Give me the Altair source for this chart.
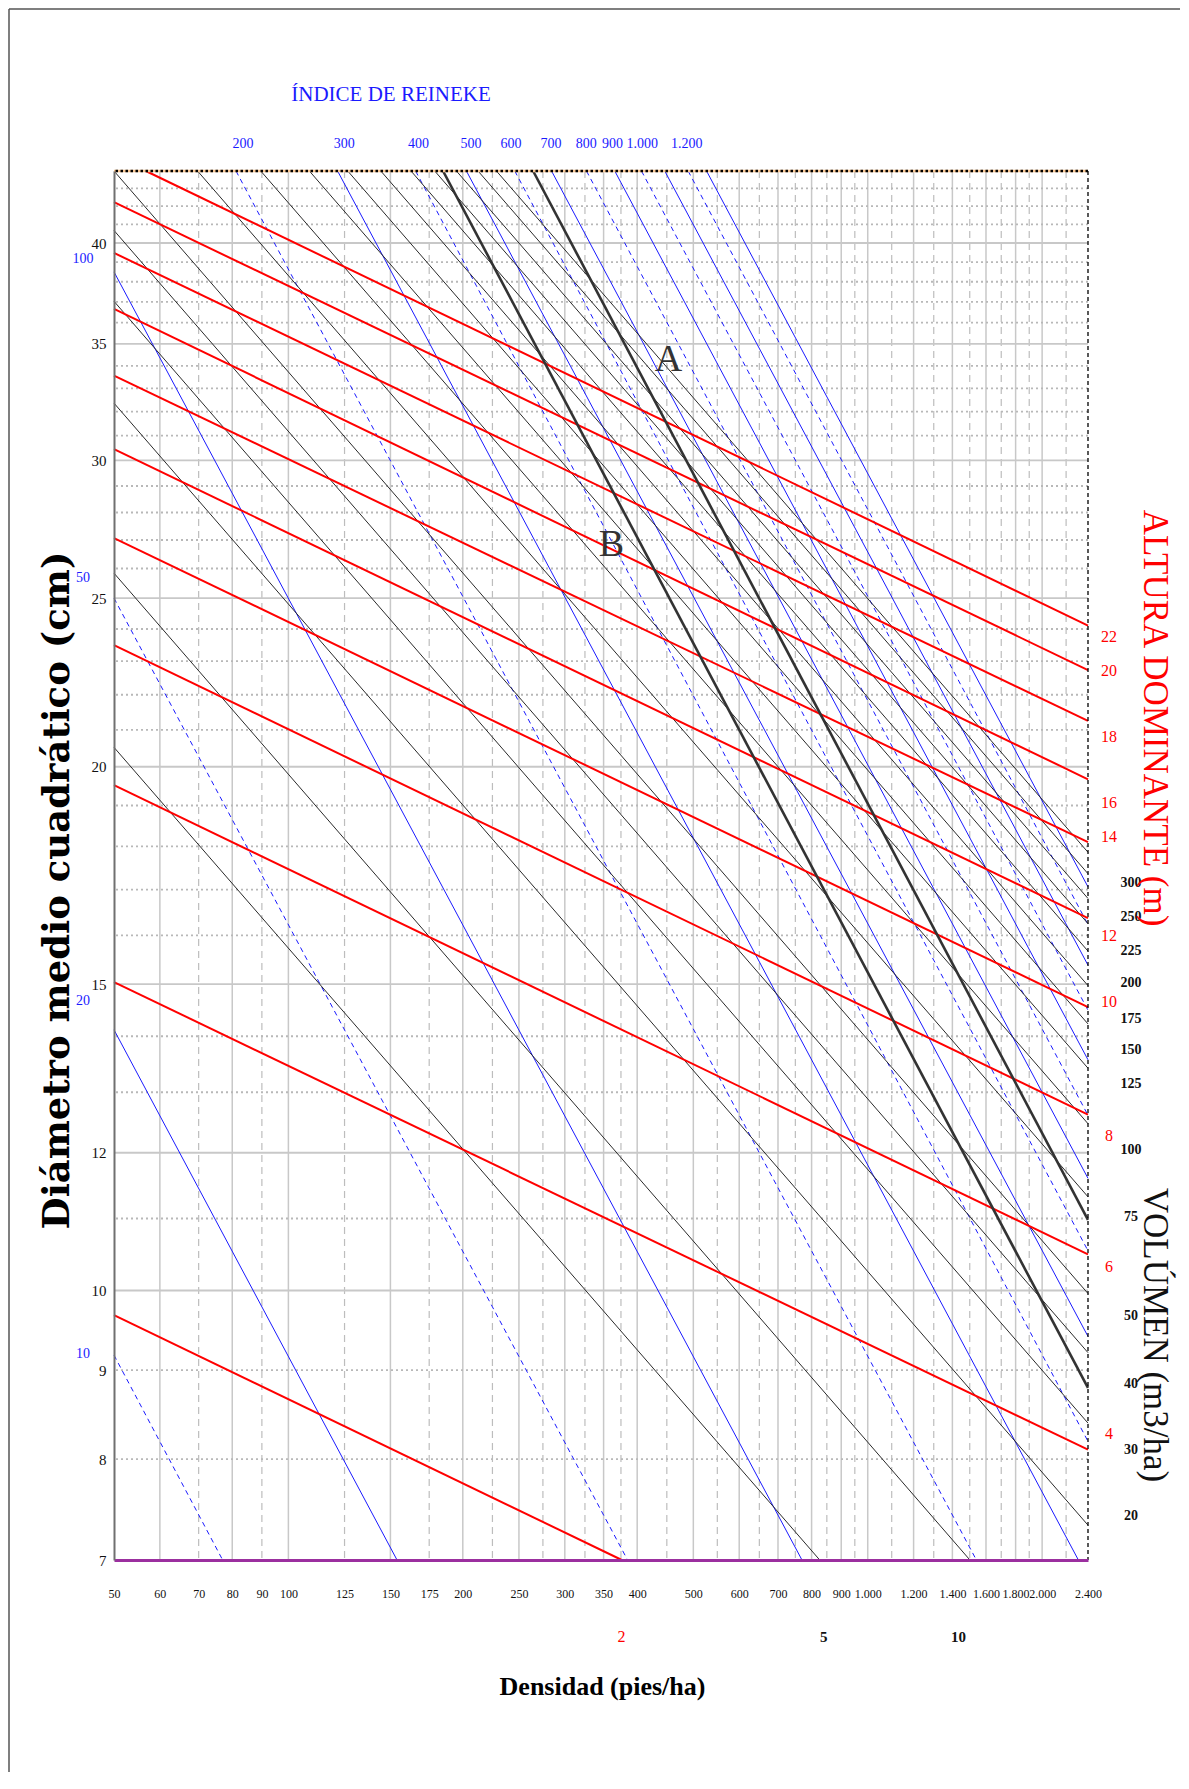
import altair as alt
import pandas as pd

SERIF = "Liberation Serif, Times New Roman, serif"

# ---------------- axis ticks ----------------
x_ticks = [50, 60, 70, 80, 90, 100, 125, 150, 175, 200, 250, 300, 350, 400, 500, 600,
           700, 800, 900, 1000, 1200, 1400, 1600, 1800, 2000, 2400]
y_ticks = [7, 8, 9, 10, 12, 15, 20, 25, 30, 35, 40]

# ---------------- grid lines ----------------
vgrid_solid = [60, 80, 100, 150, 200, 250, 300, 350, 400, 500, 600, 700, 800, 900, 1000,
               1200, 1400, 1600, 1800, 2000]
vgrid_dashed = [70, 90, 125, 175, 225, 275, 325, 375, 450, 550, 650, 750, 850, 950, 1100,
                1300, 1500, 1700, 1900, 2200]
hgrid_solid = [10, 12, 15, 20, 25, 30, 35, 40]
hgrid_dotted = [8, 9, 11, 13, 14, 16, 17, 18, 19, 21, 22, 23, 24, 26, 27, 28, 29, 31, 32, 33,
                34, 36, 37, 38, 39, 41, 42, 43]

# ---------------- dominant height lines (red) ----------------
height_ids = [22, 20, 18, 16, 14, 12, 10, 8, 6, 4, 2]
height_n0 = [56.75, 50, 50, 50, 50, 50, 50, 50, 50, 50, 50]
height_d0 = [44.0, 42.22, 39.48, 36.66, 33.56, 30.45, 27.07, 23.49, 19.52, 15.04, 9.68]
height_n1 = [2400, 2400, 2400, 2400, 2400, 2400, 2400, 2400, 2400, 2400, 376.3]
height_d1 = [24.11, 22.73, 21.25, 19.67, 18.10, 16.37, 14.55, 12.62, 10.49, 8.10, 7.0]

# ---------------- volume lines (black) ----------------
vol_ids = [5, 10, 20, 30, 40, 50, 75, 100, 125, 150, 175, 200, 225, 250, 275, 300]
vol_n0 = [50, 50, 50, 50, 50, 50, 69.7, 89.6, 108.7, 126.6, 144.4, 162.8, 178.9, 195.0, 212.5, 228.6]
vol_d0 = [20.52, 25.84, 32.36, 37.03, 40.67, 44, 44, 44, 44, 44, 44, 44, 44, 44, 44, 44]
vol_n1 = [826.3, 1501, 2400, 2400, 2400, 2400, 2400, 2400, 2400, 2400, 2400, 2400, 2400, 2400, 2400, 2400]
vol_d1 = [7.0, 7.0, 7.33, 8.39, 9.21, 9.96, 11.32, 12.47, 13.42, 14.23, 14.97, 15.67, 16.25, 16.80, 17.36, 17.86]

# ---------------- Reineke index lines (blue) ----------------
sdi_ids = [10, 20, 50, 100, 200, 300, 400, 500, 600, 700, 800, 900, 1000, 1100, 1200, 1300]
sdi_dashed = [True, False, True, False, True, False, True, False, True, False, True, False,
              True, False, True, False]
sdi_n0 = [50, 50, 50, 50, 81.2, 121.6, 165.8, 202.9, 245.9, 284.6, 327.0, 365.9, 406.9, 446.3, 489.8, 527.0]
sdi_d0 = [9.18, 14.12, 25.0, 38.5, 44, 44, 44, 44, 44, 44, 44, 44, 44, 44, 44, 44]
sdi_n1 = [77.0, 154, 385, 770, 1540, 2310, 2400, 2400, 2400, 2400, 2400, 2400, 2400, 2400, 2400, 2400]
sdi_d1 = [7, 7, 7, 7, 7, 7, 8.19, 9.41, 10.54, 11.60, 12.61, 13.57, 14.49, 15.38, 16.23, 17.06]

# ---------------- thick limit lines A and B ----------------
limit_ids = ["A", "B"]
limit_n0 = [264.5, 184.9]
limit_d0 = [44, 44]
limit_n1 = [2400, 2400]
limit_d1 = [10.98, 8.79]
limit_label_n = [453, 361]
limit_label_d = [34.28, 26.81]

# ---------------- side / top labels ----------------
reineke_top_text = ["200", "300", "400", "500", "600", "700", "800", "900", "1.000", "1.200"]
reineke_top_n = [83.5, 124.8, 167.7, 206.7, 242.2, 284, 326.8, 362.7, 408.2, 487.3]
reineke_left_text = ["100", "50", "20", "10"]
reineke_left_d = [39.15, 25.67, 14.67, 9.2]
height_lbl_text = ["22", "20", "18", "16", "14", "12", "10", "8", "6", "4"]
height_lbl_d = [23.76, 22.71, 20.81, 19.06, 18.22, 15.98, 14.64, 12.27, 10.31, 8.27]
height_bottom_text = ["2"]
height_bottom_n = [376]
vol_lbl_text = ["300", "250", "225", "200", "175", "150", "125", "100", "75", "50", "40", "30", "20"]
vol_lbl_d = [17.15, 16.39, 15.67, 15.02, 14.33, 13.74, 13.15, 12.05, 11.02, 9.67, 8.84, 8.10, 7.42]
vol_bottom_text = ["5", "10"]
vol_bottom_n = [840, 1434]


def segments(ids, n0, d0, n1, d1, extra=None):
    rows = []
    for i, lid in enumerate(ids):
        for n, d in ((n0[i], d0[i]), (n1[i], d1[i])):
            r = {"id": str(lid), "N": n, "D": d}
            if extra is not None:
                r["dash"] = extra[i]
            rows.append(r)
    return pd.DataFrame(rows)


W, H = 974, 1389
xs = alt.Scale(type="log", domain=[50, 2400], nice=False)
ys = alt.Scale(type="log", domain=[7, 44], nice=False)

x_axis = alt.Axis(
    values=x_ticks, labelExpr="replace(format(datum.value, ','), ',', '.')",
    ticks=False, grid=False, domain=True, domainColor="#9b2f9f", domainWidth=3,
    labelFont=SERIF, labelFontSize=12, labelColor="#111111", labelPadding=28,
    labelFlush=False, labelOverlap=False, labelBound=False, zindex=2,
    title="Densidad (pies/ha)", titleFont=SERIF, titleFontSize=26, titleFontWeight="bold",
    titleColor="#000000", titleX=488, titleY=126, titleAlign="center",
    titleBaseline="middle", titleAnchor="start")
y_axis = alt.Axis(
    values=y_ticks, format="d", ticks=False, grid=False, domain=True,
    domainColor="#707070", domainWidth=2, labelFont=SERIF, labelFontSize=15,
    labelColor="#111111", labelPadding=8, labelFlush=False, labelOverlap=False,
    labelBound=False, zindex=2,
    title="Diámetro medio cuadrático (cm)", titleFont="DejaVu Serif", titleFontSize=37,
    titleFontWeight="bold", titleColor="#000000", titleAngle=270, titleX=-57, titleY=719,
    titleAlign="center", titleBaseline="middle", titleAnchor="start")


def X(f="N"):
    return alt.X(f"{f}:Q", scale=xs, axis=x_axis)


def Y(f="D"):
    return alt.Y(f"{f}:Q", scale=ys, axis=y_axis)


# invisible layer carrying both axes
axes = alt.Chart(pd.DataFrame({"N": [50, 2400], "D": [7, 44]})).mark_point(opacity=0).encode(
    x=X(), y=Y())

vgs = alt.Chart(pd.DataFrame({"N": vgrid_solid})).mark_rule(color="#c8c8c8", strokeWidth=1.5).encode(x=X())
vgd = alt.Chart(pd.DataFrame({"N": vgrid_dashed})).mark_rule(
    color="#bdbdbd", strokeWidth=1.2, strokeDash=[7, 5]).encode(x=X())
hgs = alt.Chart(pd.DataFrame({"D": hgrid_solid})).mark_rule(color="#c8c8c8", strokeWidth=1.8).encode(y=Y())
hgd = alt.Chart(pd.DataFrame({"D": hgrid_dotted})).mark_rule(
    color="#b8b8b8", strokeWidth=1.8, strokeDash=[2, 3]).encode(y=Y())

df_sdi = segments(sdi_ids, sdi_n0, sdi_d0, sdi_n1, sdi_d1, sdi_dashed)
blue_solid = alt.Chart(df_sdi[~df_sdi["dash"]]).mark_line(color="#1a1aff", strokeWidth=1).encode(
    x=X(), y=Y(), detail="id:N")
blue_dash = alt.Chart(df_sdi[df_sdi["dash"]]).mark_line(
    color="#1a1aff", strokeWidth=1, strokeDash=[5, 4]).encode(x=X(), y=Y(), detail="id:N")

vol_lines = alt.Chart(segments(vol_ids, vol_n0, vol_d0, vol_n1, vol_d1)).mark_line(
    color="#2a2a2a", strokeWidth=1).encode(x=X(), y=Y(), detail="id:N")
red_lines = alt.Chart(segments(height_ids, height_n0, height_d0, height_n1, height_d1)).mark_line(
    color="#ff0000", strokeWidth=2).encode(x=X(), y=Y(), detail="id:N")
limit_lines = alt.Chart(segments(limit_ids, limit_n0, limit_d0, limit_n1, limit_d1)).mark_line(
    color="#333333", strokeWidth=2.6).encode(x=X(), y=Y(), detail="id:N")

# borders
top_orange = alt.Chart(pd.DataFrame({"D": [44]})).mark_rule(color="#f6c38f", strokeWidth=2.5).encode(y=Y())
top_dots = alt.Chart(pd.DataFrame({"D": [44]})).mark_rule(
    color="#000000", strokeWidth=2.5, strokeDash=[2.5, 2.5]).encode(y=Y())
right_border = alt.Chart(pd.DataFrame({"N": [2400]})).mark_rule(
    color="#000000", strokeWidth=1.3, strokeDash=[4, 3]).encode(x=X())

# labels
lbl_limits = alt.Chart(pd.DataFrame({"t": limit_ids, "N": limit_label_n, "D": limit_label_d})).mark_text(
    font=SERIF, fontSize=38, color="#333333", align="center", baseline="middle").encode(
    x=X(), y=Y(), text="t:N")
lbl_rtop = alt.Chart(pd.DataFrame({"t": reineke_top_text, "N": reineke_top_n})).mark_text(
    font=SERIF, fontSize=14, color="#1a1aff", align="center", baseline="middle").encode(
    x=X(), y=alt.value(-27), text="t:N")
lbl_rleft = alt.Chart(pd.DataFrame({"t": reineke_left_text, "D": reineke_left_d})).mark_text(
    font=SERIF, fontSize=14, color="#1a1aff", align="center", baseline="middle").encode(
    x=alt.value(-31), y=Y(), text="t:N")
lbl_h = alt.Chart(pd.DataFrame({"t": height_lbl_text, "D": height_lbl_d})).mark_text(
    font=SERIF, fontSize=16, color="#ff0000", align="center", baseline="middle").encode(
    x=alt.value(995), y=Y(), text="t:N")
lbl_h_bottom = alt.Chart(pd.DataFrame({"t": height_bottom_text, "N": height_bottom_n})).mark_text(
    font=SERIF, fontSize=16, color="#ff0000", align="center", baseline="middle").encode(
    x=X(), y=alt.value(H + 77), text="t:N")
lbl_v = alt.Chart(pd.DataFrame({"t": vol_lbl_text, "D": vol_lbl_d})).mark_text(
    font=SERIF, fontSize=14, fontWeight="bold", color="#111111", align="center",
    baseline="middle").encode(x=alt.value(1017), y=Y(), text="t:N")
lbl_v_bottom = alt.Chart(pd.DataFrame({"t": vol_bottom_text, "N": vol_bottom_n})).mark_text(
    font=SERIF, fontSize=15, fontWeight="bold", color="#111111", align="center",
    baseline="middle").encode(x=X(), y=alt.value(H + 77), text="t:N")

title_reineke = alt.Chart(pd.DataFrame({"t": ["ÍNDICE DE REINEKE"]})).mark_text(
    font=SERIF, fontSize=21, color="#1a1aff", align="center", baseline="middle").encode(
    x=alt.value(277), y=alt.value(-76), text="t:N")
title_altura = alt.Chart(pd.DataFrame({"t": ["ALTURA DOMINANTE (m)"]})).mark_text(
    font=SERIF, fontSize=35, color="#ff0000", align="center", baseline="middle", angle=90).encode(
    x=alt.value(1041), y=alt.value(547), text="t:N")
title_vol = alt.Chart(pd.DataFrame({"t": ["VOLÚMEN (m3/ha)"]})).mark_text(
    font=SERIF, fontSize=35, color="#111111", align="center", baseline="middle", angle=90).encode(
    x=alt.value(1041), y=alt.value(1164), text="t:N")

# frame around figure (left and top edges)
frame_left = alt.Chart(pd.DataFrame({"k": [0]})).mark_rule(color="#555555", strokeWidth=1.5).encode(
    x=alt.value(-105), y=alt.value(-162), y2=alt.value(H + 212))
frame_top = alt.Chart(pd.DataFrame({"k": [0]})).mark_rule(color="#555555", strokeWidth=1.5).encode(
    x=alt.value(-105), x2=alt.value(W + 92), y=alt.value(-162))

chart = alt.layer(
    axes, vgs, vgd, hgs, hgd,
    blue_solid, blue_dash, vol_lines, red_lines, limit_lines,
    top_orange, top_dots, right_border,
    lbl_limits, lbl_rtop, lbl_rleft, lbl_h, lbl_h_bottom, lbl_v, lbl_v_bottom,
    title_reineke, title_altura, title_vol, frame_left, frame_top,
).properties(
    width=W, height=H,
    padding={"left": 106, "top": 163, "right": 93, "bottom": 215},
    autosize=alt.AutoSizeParams(type="none"),
).configure(background="white").configure_view(stroke=None)

chart.save("out.html", embed_options={"renderer": "svg", "actions": False})
